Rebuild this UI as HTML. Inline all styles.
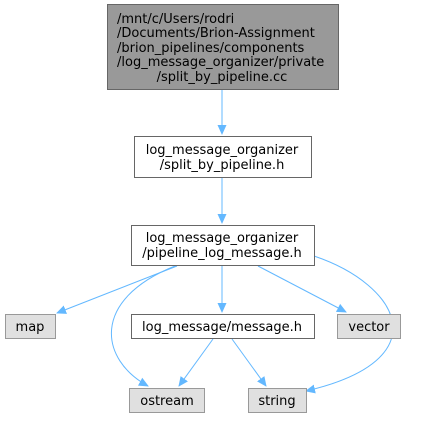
<!DOCTYPE html>
<html><head><style>body{margin:0;background:#fff}svg text{font-family:"DejaVu Sans","Liberation Sans",sans-serif;font-size:13px;fill:#000}</style></head><body>
<svg width="425" height="417" xmlns="http://www.w3.org/2000/svg">
<defs><marker id="a" markerWidth="10" markerHeight="10" refX="9" refY="5" orient="auto" markerUnits="userSpaceOnUse"><path d="M0,0.5 L10,5 L0,9.5z" fill="#63b8ff"/></marker></defs>
<g fill="none" stroke="#63b8ff" stroke-width="1">
<path d="M222,89 V134" marker-end="url(#a)"/>
<path d="M222,177 V223" marker-end="url(#a)"/>
<path d="M177,266 L57,313" marker-end="url(#a)"/>
<path d="M222,266 V312" marker-end="url(#a)"/>
<path d="M258,266 L346,312" marker-end="url(#a)"/>
<path d="M175,266 C90,300 100,360 148,386" marker-end="url(#a)"/>
<path d="M314,256 C400,285 440,360 306,391" marker-end="url(#a)"/>
<path d="M213,339 L179,386" marker-end="url(#a)"/>
<path d="M232,339 L266,386" marker-end="url(#a)"/>
</g>
<g stroke="#666" stroke-width="1">
<rect x="107.5" y="4.5" width="231" height="85" fill="#999"/>
<rect x="134.5" y="136.5" width="177" height="41" fill="#fff"/>
<rect x="131.5" y="225.5" width="183" height="40" fill="#fff"/>
<rect x="131.5" y="314.5" width="183" height="24" fill="#fff"/>
</g>
<g stroke="#999" stroke-width="1" fill="#e0e0e0">
<rect x="5.5" y="314.5" width="50" height="24"/>
<rect x="337.5" y="314.5" width="63" height="24"/>
<rect x="129.5" y="388.5" width="75" height="24"/>
<rect x="248.5" y="388.5" width="58" height="24"/>
</g>
<text x="117" y="23">/mnt/c/Users/rodri</text>
<text x="117" y="37">/Documents/Brion-Assignment</text>
<text x="117" y="52">/brion_pipelines/components</text>
<text x="117" y="66">/log_message_organizer/private</text>
<text x="222" y="81" text-anchor="middle">/split_by_pipeline.cc</text>
<text x="222" y="154" text-anchor="middle">log_message_organizer</text>
<text x="222" y="169" text-anchor="middle">/split_by_pipeline.h</text>
<text x="222" y="242" text-anchor="middle">log_message_organizer</text>
<text x="222" y="257" text-anchor="middle">/pipeline_log_message.h</text>
<text x="222" y="331" text-anchor="middle">log_message/message.h</text>
<text x="30" y="331" text-anchor="middle">map</text>
<text x="369" y="331" text-anchor="middle">vector</text>
<text x="167" y="405" text-anchor="middle">ostream</text>
<text x="277" y="405" text-anchor="middle">string</text>
</svg>
</body></html>
